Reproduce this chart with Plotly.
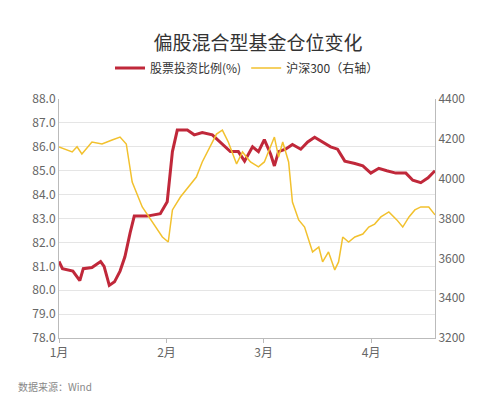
import plotly.graph_objects as go

# day offset from Jan 1
red_days = [0, 1, 4, 6, 7, 9.5, 12, 13, 14.5, 16, 17.6, 19, 20.5, 21.7, 25.4, 29.2, 31.2, 32.7, 34.1, 37, 39,
            41.3, 44.2, 46.5, 49.4, 51.7, 53.5, 55.8, 57.5, 59.2, 61, 62.1, 63.3, 65.3, 67.3, 69.7, 71.7, 73.7,
            76, 78.3, 80.3, 82.4, 85.3, 87.6, 89.9, 92.2, 94.5, 97.1, 100, 102, 104.3, 106.4, 108.4]
red_vals = [81.2, 80.9, 80.8, 80.4, 80.9, 80.95, 81.2, 81.0, 80.2, 80.35, 80.8, 81.4, 82.4, 83.1, 83.1, 83.2,
            83.7, 85.8, 86.7, 86.7, 86.5, 86.6, 86.5, 86.2, 85.8, 85.8, 85.4, 86.0, 85.8, 86.3, 85.7, 85.2,
            85.8, 85.9, 86.1, 85.9, 86.2, 86.4, 86.2, 86.0, 85.9, 85.4, 85.3, 85.2, 84.9, 85.1, 85.0, 84.9,
            84.9, 84.6, 84.5, 84.7, 85.0]

hs_days = [0, 3.8, 5.2, 6.6, 9.5, 12.4, 15.3, 17.6, 19.4, 21.1, 24, 26.9, 29.8, 31.5, 32.7, 35, 37.3, 39.6,
           41.3, 43.6, 45.4, 47.1, 48.8, 51.2, 52.9, 55.2, 57.5, 59.2, 61, 62.1, 63.3, 64.5, 66.2, 67.3, 69.1,
           70.8, 73.1, 74.9, 76, 77.7, 79.5, 80.6, 81.8, 83.5, 85.3, 87.6, 89.3, 91, 92.8, 95.1, 97.4, 99.1,
           100.9, 102.6, 104.3, 106.6, 108.4]
hs_vals = [4159, 4134, 4160, 4124, 4184, 4174, 4194, 4209, 4174, 3983, 3858, 3783, 3707, 3682, 3843, 3908,
           3958, 4008, 4084, 4159, 4224, 4244, 4184, 4074, 4134, 4084, 4059, 4084, 4159, 4209, 4109, 4184,
           4084, 3883, 3793, 3757, 3632, 3657, 3582, 3632, 3542, 3582, 3707, 3682, 3707, 3722, 3757, 3772,
           3808, 3833, 3793, 3757, 3808, 3843, 3858, 3858, 3818]

month_pos = [0, 31, 59, 90]
month_labels = ["1月", "2月", "3月", "4月"]

font = "Noto Sans CJK SC"
fig = go.Figure()
fig.add_trace(go.Scatter(x=red_days, y=red_vals, mode="lines", name="股票投资比例(%)",
                         line=dict(color="#c0283a", width=3)))
fig.add_trace(go.Scatter(x=hs_days, y=hs_vals, mode="lines", name="沪深300（右轴）", yaxis="y2",
                         line=dict(color="#f2c12e", width=1.5)))

fig.update_layout(
    width=500, height=409, paper_bgcolor="white", plot_bgcolor="white",
    margin=dict(l=51, r=73, t=91, b=79),
    font=dict(family=font, color="#666", size=12),
    title=dict(text="偏股混合型基金仓位变化", x=0.5, y=0.914, xanchor="center", yanchor="middle",
               font=dict(size=19, color="#333")),
    legend=dict(orientation="h", x=0.5, y=1.19, xanchor="center", font=dict(size=12, color="#333")),
    showlegend=True,
    xaxis=dict(range=[0, 108.4], tickvals=month_pos, ticktext=month_labels, showgrid=False,
               showline=True, linecolor="#bbb", ticks="outside", tickcolor="#bbb", ticklen=4),
    yaxis=dict(range=[78, 88], dtick=1, tickformat=".1f", gridcolor="#e5e5e5", zeroline=False,
               showline=True, linecolor="#bbb"),
    yaxis2=dict(range=[3200, 4400], dtick=200, overlaying="y", side="right", showgrid=False,
                zeroline=False, showline=True, linecolor="#bbb"),
)
fig.add_annotation(text="数据来源：Wind", x=-0.114, y=-0.205, xref="paper", yref="paper", showarrow=False,
                   xanchor="left", yanchor="middle", font=dict(size=10, color="#888"))
fig.write_html("out.html")
